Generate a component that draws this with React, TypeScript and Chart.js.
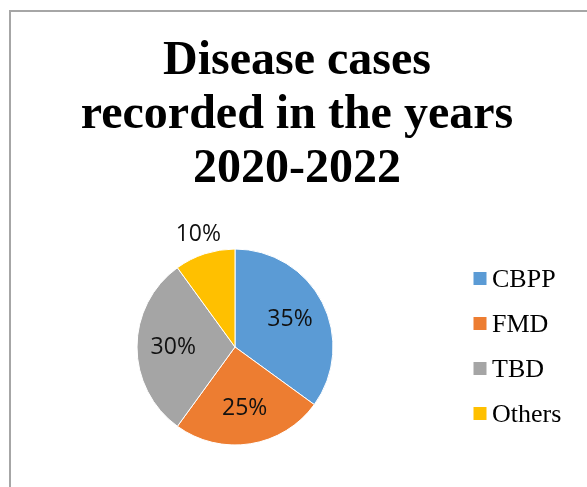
import React, { useEffect, useRef } from "react";
import { Chart, registerables } from "chart.js";

Chart.register(...registerables);

const categories = ["CBPP", "FMD", "TBD", "Others"];
const percentages = [35, 25, 30, 10];
const sliceColors = ["#5B9BD5", "#ED7D31", "#A5A5A5", "#FFC000"];
const titleLines = ["Disease cases", "recorded in the years", "2020-2022"];

const PIE_CX = 235;
const PIE_CY = 347;
const PIE_HALF = 98.5;

const areaPlugin = {
  id: "pieArea",
  afterLayout(chart: any) {
    chart.chartArea = {
      left: PIE_CX - PIE_HALF,
      top: PIE_CY - PIE_HALF,
      right: PIE_CX + PIE_HALF,
      bottom: PIE_CY + PIE_HALF,
      width: PIE_HALF * 2,
      height: PIE_HALF * 2,
    };
  },
};

const labelPlugin = {
  id: "sliceLabels",
  afterDatasetsDraw(chart: any) {
    const ctx = chart.ctx;
    const meta = chart.getDatasetMeta(0);
    const values = chart.data.datasets[0].data as number[];
    ctx.save();
    ctx.font = '23px "Open Sans"';
    ctx.fillStyle = "#111111";
    ctx.textAlign = "center";
    ctx.textBaseline = "middle";
    meta.data.forEach((arc: any, i: number) => {
      const p = arc.getProps(["x", "y", "startAngle", "endAngle", "outerRadius"], true);
      const mid = (p.startAngle + p.endAngle) / 2;
      const v = values[i];
      const d = v < 15 ? p.outerRadius * 1.21 : p.outerRadius * 0.63;
      ctx.fillText(v + "%", p.x + Math.cos(mid) * d, p.y + Math.sin(mid) * d);
    });
    ctx.restore();
  },
};

const legendPlugin = {
  id: "sideLegend",
  afterDraw(chart: any) {
    const ctx = chart.ctx;
    const labels = chart.data.labels as string[];
    const colors = chart.data.datasets[0].backgroundColor as string[];
    ctx.save();
    ctx.font = '26px "Liberation Serif"';
    ctx.textAlign = "left";
    ctx.textBaseline = "alphabetic";
    labels.forEach((lab, i) => {
      const rowY = 278.5 + 45 * i;
      ctx.fillStyle = colors[i];
      ctx.fillRect(473.5, rowY - 6.5, 13, 13);
      ctx.fillStyle = "#000000";
      ctx.fillText(lab, 492, rowY + 8);
    });
    ctx.restore();
  },
};

export default function App() {
  const canvasRef = useRef<HTMLCanvasElement | null>(null);

  useEffect(() => {
    if (!canvasRef.current) return;
    const chart = new Chart(canvasRef.current, {
      type: "pie",
      data: {
        labels: categories,
        datasets: [
          {
            data: percentages,
            backgroundColor: sliceColors,
            borderColor: "#ffffff",
            borderWidth: 1,
          },
        ],
      },
      options: {
        responsive: false,
        animation: false,
        events: [],
        layout: { padding: { left: 17, right: 10, top: 0, bottom: 0 } },
        plugins: {
          legend: { display: false },
          tooltip: { enabled: false },
          title: {
            display: true,
            text: titleLines,
            color: "#000000",
            font: { family: '"Liberation Serif"', size: 48, weight: "bold", lineHeight: 1.125 },
            padding: { top: 35, bottom: 0 },
          },
        },
      },
      plugins: [areaPlugin, labelPlugin, legendPlugin],
    });
    return () => chart.destroy();
  }, []);

  return (
    <div
      style={{
        position: "fixed",
        left: 0,
        top: 0,
        width: 587,
        height: 487,
        overflow: "hidden",
        background: "#ffffff",
      }}
    >
      <div
        style={{
          position: "absolute",
          left: 9,
          top: 10,
          width: 800,
          height: 800,
          border: "2px solid #a6a6a6",
          boxSizing: "border-box",
        }}
      />
      <canvas
        ref={canvasRef}
        width={587}
        height={487}
        style={{ position: "absolute", left: 0, top: 0, width: 587, height: 487 }}
      />
    </div>
  );
}
